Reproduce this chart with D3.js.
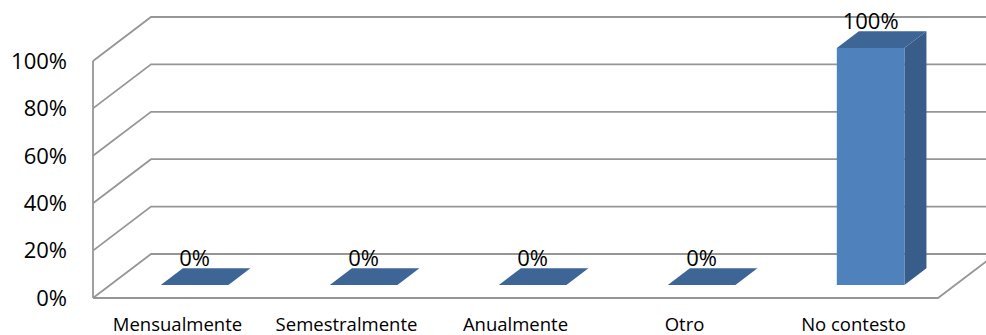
<!DOCTYPE html>
<html><head><meta charset="utf-8">
<script src="https://cdn.jsdelivr.net/npm/d3@7"></script>
<style>
html,body{margin:0;padding:0;background:#fff;overflow:hidden}
svg{display:block}
text{font-family:"Open Sans","Noto Sans",sans-serif;fill:#000}
</style></head>
<body>
<svg id="chart" width="986" height="335"></svg>
<script>
const categories = ["Mensualmente","Semestralmente","Anualmente","Otro","No contesto"];
const values = [0, 0, 0, 0, 1];
const tickValues = [0, 0.2, 0.4, 0.6, 0.8, 1];
const tickLabels = ["0%","20%","40%","60%","80%","100%"];
const dataLabels = ["0%","0%","0%","0%","100%"];

const svg = d3.select("#chart");
const W = 986, H = 335;
const left = 93, right = 938, floorY = 298, topY = 61;
const DX = 58, DY = 44; // full depth offset
const x = d3.scaleBand().domain(categories).range([left, right]).padding(0);
const y = d3.scaleLinear().domain([0, 1]).range([floorY, topY]);
const proj = (px, py, z) => [px + z * DX, py - z * DY];

const grid = svg.append("g").attr("stroke", "#969696").attr("stroke-width", 1.8).attr("fill", "none");
tickValues.forEach(t => {
  const f = proj(left, y(t), 0), b = proj(left, y(t), 1);
  grid.append("path").attr("d", `M${f[0]},${f[1]}L${b[0]},${b[1]}L${W + 20},${b[1]}`);
});
grid.append("line").attr("x1", left).attr("x2", left).attr("y1", y(0)).attr("y2", y(1));
const fr = proj(right, y(0), 1);
grid.append("path").attr("d", `M${left},${y(0)}L${right},${y(0)}L${fr[0]},${fr[1]}`);

svg.append("g").selectAll("text").data(tickValues).join("text")
  .attr("x", 67).attr("y", d => y(d) + 2)
  .attr("text-anchor", "end").attr("dominant-baseline", "middle")
  .style("font-size", "22px")
  .text((d, i) => tickLabels[i]);

svg.append("g").selectAll("text").data(categories).join("text")
  .attr("x", d => x(d) + x.bandwidth() / 2).attr("y", 330.5)
  .attr("text-anchor", "middle").style("font-size", "18.5px")
  .text(d => d);

const z0 = 0.295, z1 = 0.675;
const bw = x.bandwidth() * 0.4;
const bars = svg.append("g");
categories.forEach((c, i) => {
  const v = values[i];
  const cx = x(c) + x.bandwidth() / 2;
  const xl = cx - bw / 2, xr = cx + bw / 2;
  const yb = y(0), yt = y(v);
  const P = (px, py, z) => proj(px, py, z).join(",");
  if (v > 0) {
    bars.append("path").attr("fill", "#385d8a")
      .attr("d", `M${P(xr, yb, z0)}L${P(xr, yb, z1)}L${P(xr, yt, z1)}L${P(xr, yt, z0)}Z`);
    bars.append("path").attr("fill", "#4f81bd")
      .attr("d", `M${P(xl, yb, z0)}L${P(xr, yb, z0)}L${P(xr, yt, z0)}L${P(xl, yt, z0)}Z`);
  }
  bars.append("path").attr("fill", "#3d6696")
    .attr("d", `M${P(xl, yt, z0)}L${P(xr, yt, z0)}L${P(xr, yt, z1)}L${P(xl, yt, z1)}Z`);
  const lp = proj(cx, yt, z0);
  const back = proj(cx, yt, z1);
  svg.append("text").attr("x", lp[0]).attr("y", back[1] - 2)
    .attr("text-anchor", "middle").style("font-size", "22px")
    .text(dataLabels[i]);
});
</script>
</body></html>
